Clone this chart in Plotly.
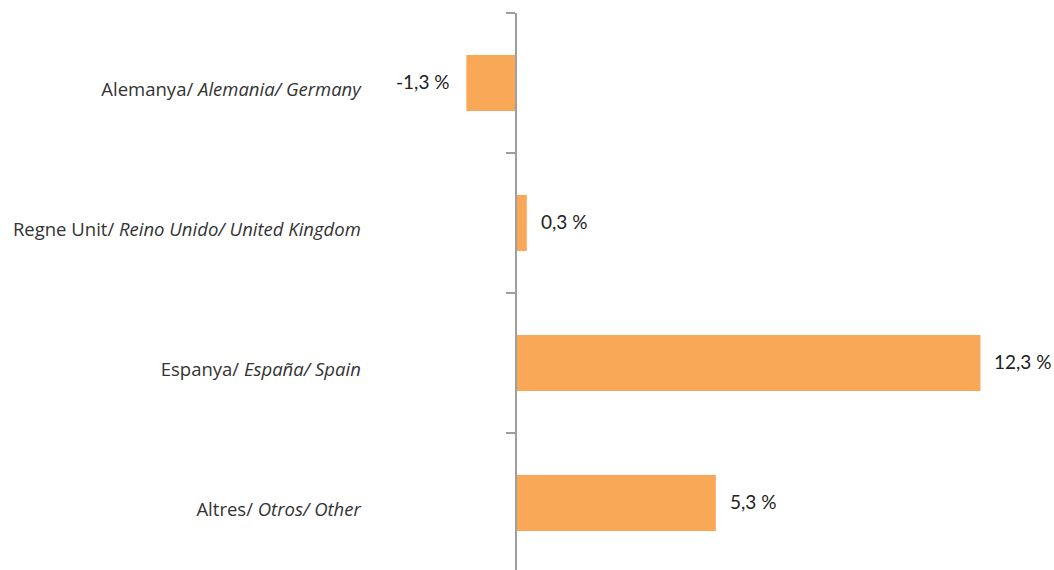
import plotly.graph_objects as go

categories = [
    "Alemanya/ <i>Alemania/ Germany</i>",
    "Regne Unit/ <i>Reino Unido/ United Kingdom</i>",
    "Espanya/ <i>España/ Spain</i>",
    "Altres/ <i>Otros/ Other</i>",
]
values = [-1.3, 0.3, 12.3, 5.3]
value_labels = ["-1,3 %", "0,3 %", "12,3 %", "5,3 %"]

bar_color = "#F9A858"
axis_color = "#9E9E9E"
font_family = "'Open Sans', Lato, sans-serif"
value_font_family = "Lato, 'Open Sans', sans-serif"

W, H = 1054, 570
px_per_unit = 37.8
zero_px = 515.5
xmin = -zero_px / px_per_unit
xmax = (W - zero_px) / px_per_unit

fig = go.Figure()
fig.add_trace(go.Bar(
    x=values, y=categories, orientation="h",
    marker=dict(color=bar_color, line=dict(width=0)),
    width=0.4,
    hoverinfo="skip",
))

for v, c, t in zip(values, categories, value_labels):
    fig.add_annotation(
        x=v, y=c, text=t, showarrow=False,
        xanchor="left" if v >= 0 else "right",
        xshift=12 if v >= 0 else -14,
        yshift=1,
        font=dict(family=value_font_family, size=19, color="#222222"),
    )

fig.update_layout(
    width=W, height=H,
    margin=dict(l=0, r=0, t=13, b=0),
    paper_bgcolor="white", plot_bgcolor="white",
    showlegend=False,
    font=dict(family=font_family, size=18.5, color="#333333"),
    xaxis=dict(range=[xmin, xmax], visible=False, showgrid=False, zeroline=False),
    yaxis=dict(
        type="category",
        categoryorder="array", categoryarray=categories,
        range=[3.479, -0.5],
        anchor="free", position=(0 - xmin) / (xmax - xmin),
        showline=True, linecolor=axis_color, linewidth=2,
        ticks="outside", tickson="boundaries", ticklen=9, tickwidth=2,
        tickcolor=axis_color,
        ticklabelstandoff=150,
        ticklabelshift=-7,
        showgrid=False, zeroline=False,
        tickfont=dict(family=font_family, size=18.5, color="#333333"),
    ),
)

fig.write_html(
    "out.html",
    config={"displayModeBar": False},
    post_script="document.body.style.margin='0';document.body.style.overflow='hidden';",
)
